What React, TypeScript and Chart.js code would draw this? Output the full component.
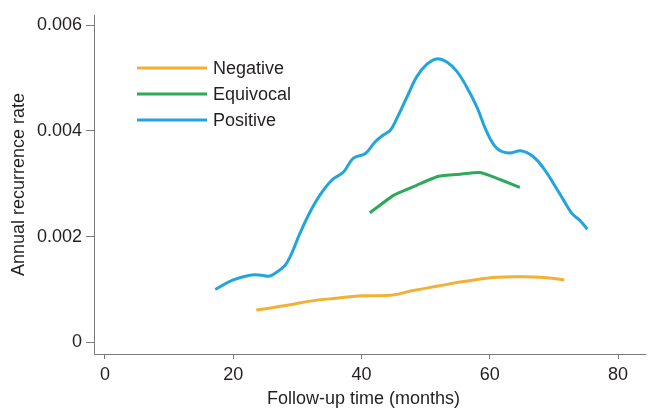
import React, { useEffect, useRef } from "react";
import { Chart, registerables } from "chart.js";

Chart.register(...registerables);

const seriesLabels = ["Negative", "Equivocal", "Positive"];
const seriesColors = ["#F2B134", "#2EA85A", "#21A5DC"];

const negativeX = [23.6, 28.9, 32.0, 35.6, 40.3, 44.5, 48.1, 51.7, 55.9, 61.1, 65.3, 68.9, 71.6];
const negativeY = [0.00061, 0.00071, 0.00078, 0.00083, 0.00088, 0.00089, 0.00098, 0.00106, 0.00115, 0.00123, 0.00124, 0.00122, 0.00118];

const equivocalX = [41.3, 45.0, 48.6, 52.0, 55.4, 58.5, 61.6, 64.7];
const equivocalY = [0.00245, 0.00278, 0.00297, 0.00314, 0.00318, 0.00321, 0.00308, 0.00293];

const positiveX = [17.2, 20.0, 22.6, 24.4, 25.5, 26.3, 28.1, 29.1, 30.4, 32.0, 33.5, 35.4, 37.2, 38.7, 40.6, 42.1, 43.4, 44.5, 45.5, 47.1, 48.6, 50.2, 51.7, 53.3, 54.9, 56.4, 58.0, 59.5, 61.1, 62.9, 65.0, 66.8, 68.4, 69.9, 71.5, 72.8, 74.1, 75.2];
const positiveY = [0.00100, 0.00118, 0.00127, 0.00127, 0.00125, 0.00129, 0.00146, 0.00168, 0.00206, 0.00247, 0.00278, 0.00307, 0.00322, 0.00348, 0.00357, 0.00379, 0.00392, 0.00401, 0.00423, 0.00464, 0.00502, 0.00526, 0.00536, 0.00530, 0.00512, 0.00483, 0.00445, 0.00399, 0.00367, 0.00358, 0.00362, 0.00351, 0.00329, 0.00301, 0.00269, 0.00244, 0.00230, 0.00214];

const xTicks = [0, 20, 40, 60, 80];
const yTicks = [0, 0.002, 0.004, 0.006];
const yTickLabels = ["0", "0.002", "0.004", "0.006"];
const xTitle = "Follow-up time (months)";
const yTitle = "Annual recurrence rate";

const FONT = "'Liberation Sans', Arial, Helvetica, sans-serif";
const TEXT = "#231f20";
const AXIS = "#7a7a7a";

const zip = (xs: number[], ys: number[]) => xs.map((x, i) => ({ x, y: ys[i] }));

const legendPlugin = {
  id: "insideLegend",
  afterDraw(chart: any) {
    const { ctx, chartArea } = chart;
    const x0 = chartArea.left + 43;
    const y0 = chartArea.top + 53;
    ctx.save();
    ctx.font = `18px ${FONT}`;
    ctx.textBaseline = "middle";
    ctx.textAlign = "left";
    chart.data.datasets.forEach((ds: any, i: number) => {
      const y = y0 + i * 26;
      ctx.strokeStyle = ds.borderColor;
      ctx.lineWidth = 3;
      ctx.beginPath();
      ctx.moveTo(x0, y);
      ctx.lineTo(x0 + 70, y);
      ctx.stroke();
      ctx.fillStyle = TEXT;
      ctx.fillText(ds.label, x0 + 76, y + 1);
    });
    // x-axis title
    ctx.textAlign = "center";
    ctx.fillText(xTitle, (chartArea.left + chartArea.right) / 2 - 6, chart.height - 12);
    ctx.restore();
  },
};

export default function App() {
  const ref = useRef<HTMLCanvasElement>(null);
  useEffect(() => {
    if (!ref.current) return;
    const chart = new Chart(ref.current, {
      type: "line",
      data: {
        datasets: [
          { label: seriesLabels[0], data: zip(negativeX, negativeY), borderColor: seriesColors[0], tension: 0.4 },
          { label: seriesLabels[1], data: zip(equivocalX, equivocalY), borderColor: seriesColors[1], tension: 0.15 },
          { label: seriesLabels[2], data: zip(positiveX, positiveY), borderColor: seriesColors[2], tension: 0.4 },
        ].map((d) => ({ ...d, borderWidth: 3, pointRadius: 0, fill: false, borderCapStyle: "butt" as const })),
      },
      options: {
        responsive: false,
        animation: false,
        layout: { padding: { left: 0, top: 15, right: 4, bottom: 0 } },
        plugins: { legend: { display: false }, tooltip: { enabled: false } },
        scales: {
          x: {
            type: "linear",
            min: -1.7,
            max: 84.2,
            afterBuildTicks: (s: any) => {
              s.ticks = xTicks.map((v) => ({ value: v }));
            },
            afterFit: (s: any) => {
              s.height = 57;
            },
            grid: { drawOnChartArea: false, drawTicks: true, tickLength: 5, color: AXIS },
            border: { display: true, color: AXIS, width: 1 },
            ticks: { color: TEXT, font: { family: FONT, size: 18 }, padding: 5, maxRotation: 0 },
            title: { display: false },
          },
          y: {
            type: "linear",
            min: -0.00022,
            max: 0.00619,
            afterBuildTicks: (s: any) => {
              s.ticks = yTicks.map((v) => ({ value: v }));
            },
            afterFit: (s: any) => {
              s.width = 94;
            },
            grid: { drawOnChartArea: false, drawTicks: true, tickLength: 8, color: AXIS },
            border: { display: true, color: AXIS, width: 1 },
            ticks: {
              color: TEXT,
              font: { family: FONT, size: 18 },
              padding: 4,
              callback: (v: any) => {
                const i = yTicks.findIndex((t) => Math.abs(t - Number(v)) < 1e-9);
                return i >= 0 ? yTickLabels[i] : "";
              },
            },
            title: {
              display: true,
              text: yTitle,
              color: TEXT,
              font: { family: FONT, size: 18 },
              padding: { top: 8, bottom: 0 },
            },
          },
        },
      },
      plugins: [legendPlugin],
    });
    return () => chart.destroy();
  }, []);
  return (
    <div style={{ position: "absolute", left: 0, top: 0, width: 649, height: 411, background: "#fff" }}>
      <canvas ref={ref} width={649} height={411} style={{ display: "block" }} />
    </div>
  );
}
